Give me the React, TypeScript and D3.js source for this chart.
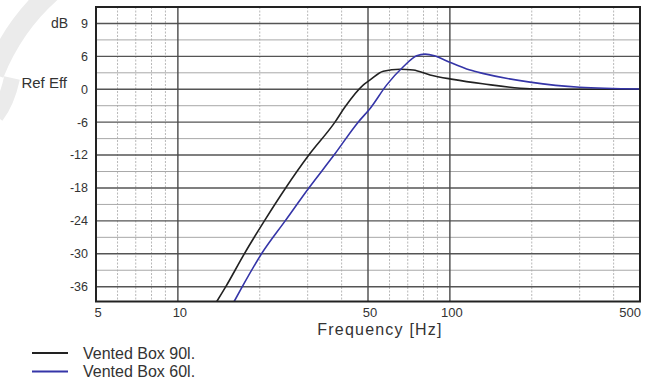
import { useMemo } from "react";
import { curveMonotoneX, line, scaleLog, scaleLinear, range } from "d3";

const WIDTH = 653;
const HEIGHT = 380;
const PLOT = { left: 96, right: 640, top: 7, bottom: 301.5 };

// frequency axis
const FREQ_DOMAIN = [5, 500];
const FREQ_TICKS = [5, 10, 50, 100, 500];
const FREQ_MAJOR = [10, 50, 100];
const FREQ_MINOR = [6, 7, 8, 9, 20, 30, 40, 60, 70, 80, 90, 200, 300, 400];

// level axis (top gridline is printed as "9" in the source sheet)
const DB_DOMAIN = [-38.7, 15];
const DB_MAJOR = [12, 6, 0, -6, -12, -18, -24, -30, -36];
const DB_LABELS = ["9", "6", "0", "-6", "-12", "-18", "-24", "-30", "-36"];
const DB_MINOR = [9, 3, -3, -9, -15, -21, -27, -33];

// Vented Box 90l.
const box90Freq = [13.9, 15.0, 17.55, 20.8, 24.9, 30.3, 37.8, 41.2, 48.1, 50.9, 56.9, 65.6, 73.4, 84.5, 102.7, 132, 197, 300, 500];
const box90Db = [-38.7, -36, -30, -24, -18, -12, -6, -3.2, 0.8, 1.7, 3.3, 3.65, 3.5, 2.6, 1.8, 1.0, 0.1, 0, 0];

// Vented Box 60l.
const box60Freq = [16.1, 17.25, 20.3, 24.8, 30.3, 37.5, 46.0, 50.9, 58.6, 67.4, 75.5, 81.0, 87.8, 96, 118.6, 132, 197, 300, 500];
const box60Db = [-38.7, -36, -30, -24, -18, -12, -6, -3.5, 0.8, 4.1, 6.1, 6.4, 6.1, 5.3, 3.5, 2.9, 1.3, 0.36, 0.05];

const SERIES = [
  { name: "Vented Box 90l.", freq: box90Freq, db: box90Db, color: "#222222" },
  { name: "Vented Box 60l.", freq: box60Freq, db: box60Db, color: "#3535a8" }
];

const FONT = "'Liberation Sans', Arial, sans-serif";

export default function App() {
  const x = useMemo(() => scaleLog().domain(FREQ_DOMAIN).range([PLOT.left, PLOT.right]), []);
  const y = useMemo(() => scaleLinear().domain(DB_DOMAIN).range([PLOT.bottom, PLOT.top]), []);

  const paths = useMemo(
    () =>
      SERIES.map((s) => {
        const pts = range(s.freq.length).map((i) => [s.freq[i], s.db[i]] as [number, number]);
        const gen = line<[number, number]>()
          .x((d) => x(d[0]))
          .y((d) => y(d[1]))
          .curve(curveMonotoneX);
        return { ...s, d: gen(pts) || "" };
      }),
    [x, y]
  );

  return (
    <svg
      width={WIDTH}
      height={HEIGHT}
      style={{ position: "absolute", left: 0, top: 0, background: "#fff" }}
      fontFamily={FONT}
    >
      <defs>
        <clipPath id="plot-clip">
          <rect x={PLOT.left} y={PLOT.top} width={PLOT.right - PLOT.left} height={PLOT.bottom - PLOT.top} />
        </clipPath>
      </defs>

      {/* faint watermark */}
      <path d="M 56 -12 C 32 8, 10 34, -6 74" fill="none" stroke="#ebebeb" strokeWidth={20} />
      <path d="M 12 78 C 9 92, 5 104, -4 116" fill="none" stroke="#ebebeb" strokeWidth={16} />

      {/* minor grid */}
      {FREQ_MINOR.map((f) => (
        <line key={`fm${f}`} x1={x(f)} x2={x(f)} y1={PLOT.top} y2={PLOT.bottom} stroke="#b8b8b8" strokeWidth={1} strokeDasharray="2,1.5" />
      ))}
      {DB_MINOR.map((v) => (
        <line key={`dm${v}`} x1={PLOT.left} x2={PLOT.right} y1={y(v)} y2={y(v)} stroke="#a8a8a8" strokeWidth={1} />
      ))}
      {DB_MAJOR.map((v) => (
        <line key={`dM${v}`} x1={PLOT.left} x2={PLOT.right} y1={y(v)} y2={y(v)} stroke="#555" strokeWidth={1.4} />
      ))}
      {FREQ_MAJOR.map((f) => (
        <line key={`fM${f}`} x1={x(f)} x2={x(f)} y1={PLOT.top} y2={PLOT.bottom} stroke="#4a4a4a" strokeWidth={1.4} />
      ))}

      {/* curves */}
      <g clipPath="url(#plot-clip)">
        {paths.map((p) => (
          <path key={p.name} d={p.d} fill="none" stroke={p.color} strokeWidth={1.6} />
        ))}
      </g>

      {/* frame */}
      <rect
        x={PLOT.left}
        y={PLOT.top}
        width={PLOT.right - PLOT.left}
        height={PLOT.bottom - PLOT.top}
        fill="none"
        stroke="#222"
        strokeWidth={2}
      />

      {/* y labels */}
      {DB_MAJOR.map((v, i) => (
        <text key={`yl${v}`} x={88} y={y(v)} dy="0.35em" textAnchor="end" fontSize={12.5} fill="#333">
          {DB_LABELS[i]}
        </text>
      ))}
      <text x={68} y={y(12)} dy="0.35em" textAnchor="end" fontSize={14} fill="#333">dB</text>
      <text x={67} y={y(0) - 7} dy="0.35em" textAnchor="end" fontSize={15} fill="#333">Ref Eff</text>

      {/* x labels */}
      {FREQ_TICKS.map((f, i) => (
        <text
          key={`xl${f}`}
          x={i === FREQ_TICKS.length - 1 ? x(f) + 1 : x(f) + 2}
          y={317}
          textAnchor={i === FREQ_TICKS.length - 1 ? "end" : "middle"}
          fontSize={13}
          fill="#333"
        >
          {f}
        </text>
      ))}
      <text x={380} y={335} textAnchor="middle" fontSize={16} fill="#333" letterSpacing={1.2}>
        Frequency [Hz]
      </text>

      {/* legend */}
      {SERIES.map((s, i) => (
        <g key={`lg${s.name}`} transform={`translate(0, ${353 + i * 18.5})`}>
          <line x1={32} x2={68} y1={0} y2={0} stroke={s.color} strokeWidth={2} />
          <text x={83} y={0} dy="0.35em" fontSize={16} fill="#333">
            {s.name}
          </text>
        </g>
      ))}
    </svg>
  );
}
